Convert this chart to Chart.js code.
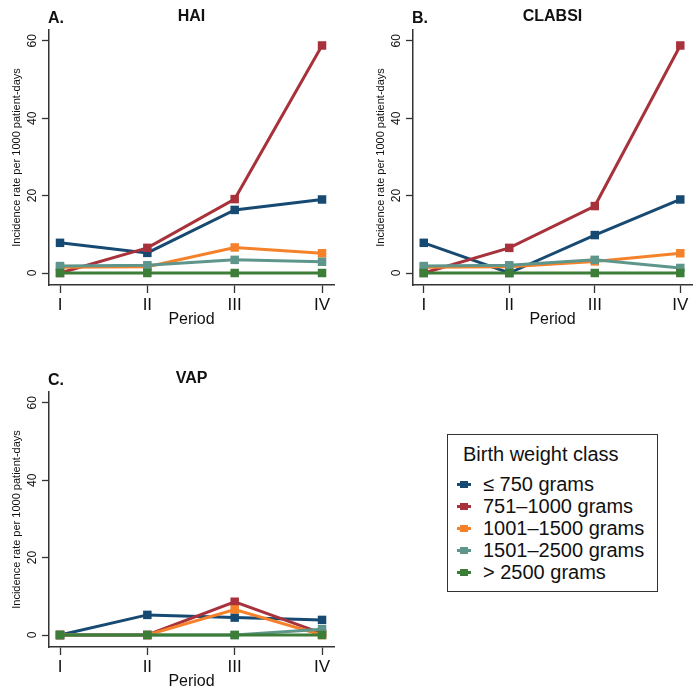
<!DOCTYPE html>
<html>
<head>
<meta charset="utf-8">
<script src="https://cdn.jsdelivr.net/npm/chart.js@4.4.1/dist/chart.umd.min.js"></script>
<style>
  body { margin: 0; background: #fff; }
  #wrap { position: relative; width: 698px; height: 692px; overflow: hidden; font-family: 'Liberation Sans', Arial, sans-serif; }
  #wrap canvas { position: absolute; }
  #legend { position: absolute; left: 447px; top: 434px; width: 211px; height: 158px; box-sizing: border-box; border: 1px solid #333; color: #111; font-size: 20px; }
  #legend .ttl { position: absolute; left: 15px; top: 8px; line-height: 22px; white-space: nowrap; }
  #legend .row { position: absolute; left: 0; height: 22px; line-height: 22px; white-space: nowrap; }
  #legend .ln { position: absolute; left: 9px; top: 10px; width: 14px; height: 3px; }
  #legend .sq { position: absolute; left: 12px; top: 8px; width: 8px; height: 7px; }
  #legend .tx { position: absolute; left: 35px; top: 0; }
</style>
</head>
<body>
<div id="wrap">
  <canvas id="hai" width="349" height="330" style="left:0;top:0"></canvas>
  <canvas id="clabsi" width="334" height="330" style="left:364px;top:0"></canvas>
  <canvas id="vap" width="349" height="330" style="left:0;top:362px"></canvas>
  <div id="legend"></div>
</div>
<script>
const periods = ['I', 'II', 'III', 'IV'];
const weightClasses = ['≤ 750 grams', '751–1000 grams', '1001–1500 grams', '1501–2500 grams', '> 2500 grams'];
const yTicks = [0, 20, 40, 60];

// HAI
const haiLe750 = [7.8, 5.2, 16.3, 19.0];
const hai751 = [0, 6.5, 19.1, 58.8];
const hai1001 = [1.5, 1.6, 6.6, 5.1];
const hai1501 = [1.8, 2.0, 3.4, 2.9];
const haiGt2500 = [0, 0, 0, 0];

// CLABSI
const clabsiLe750 = [7.8, 0, 9.8, 19.0];
const clabsi751 = [0, 6.5, 17.3, 58.8];
const clabsi1001 = [1.5, 1.6, 3.0, 5.1];
const clabsi1501 = [1.8, 2.0, 3.4, 1.3];
const clabsiGt2500 = [0, 0, 0, 0];

// VAP
const vapLe750 = [0, 5.2, 4.5, 3.9];
const vap751 = [0, 0, 8.6, 0.4];
const vap1001 = [0, 0, 6.6, 0];
const vap1501 = [0, 0, 0, 1.5];
const vapGt2500 = [0, 0, 0, 0];

const colors = ['#174a72', '#a8323c', '#f5822a', '#5f968c', '#3c7d37'];
const FONT = "'Liberation Sans', Arial, sans-serif";

// panel letter + title above plot area
const panelTitle = {
  id: 'panelTitle',
  afterDraw(chart, args, opts) {
    const { ctx, chartArea } = chart;
    ctx.save();
    ctx.fillStyle = '#111';
    ctx.font = 'bold 16px ' + FONT;
    ctx.textBaseline = 'middle';
    ctx.textAlign = 'left';
    ctx.fillText(opts.letter, chartArea.left - 1, 19);
    ctx.textAlign = 'center';
    ctx.fillText(opts.title, (chartArea.left + chartArea.right) / 2, 17);
    ctx.restore();
  }
};

function makePanel(id, letter, title, series, padRight) {
  const ctx = document.getElementById(id).getContext('2d');
  return new Chart(ctx, {
    type: 'line',
    data: {
      datasets: series.map((vals, i) => ({
        label: weightClasses[i],
        data: vals.map((v, j) => ({ x: j + 1, y: v })),
        borderColor: colors[i],
        backgroundColor: colors[i],
        borderWidth: 3,
        pointStyle: 'rect',
        pointRadius: 6,
        pointBorderWidth: 0,
        order: -i,
      })),
    },
    options: {
      responsive: false,
      animation: false,
      devicePixelRatio: 1,
      layout: { padding: { left: 0, right: padRight, top: 30, bottom: 0 } },
      plugins: {
        legend: { display: false },
        tooltip: { enabled: false },
        panelTitle: { letter, title },
      },
      scales: {
        x: {
          type: 'linear',
          min: 0.874,
          max: 4.137,
          afterBuildTicks: s => { s.ticks = periods.map((p, i) => ({ value: i + 1 })); },
          afterFit: s => { s.height = 45; },
          ticks: {
            callback: (v, i) => periods[i],
            autoSkip: false,
            maxRotation: 0,
            padding: 2,
            color: '#111',
            font: { family: FONT, size: 17 },
          },
          grid: { drawOnChartArea: false, tickLength: 8, tickColor: '#333', tickWidth: 1.3 },
          border: { color: '#333', width: 1.5 },
          title: {
            display: true,
            text: 'Period',
            color: '#111',
            font: { family: FONT, size: 16 },
            padding: { top: 0, bottom: 1 },
          },
        },
        y: {
          min: -3.1,
          max: 62.8,
          afterBuildTicks: s => { s.ticks = yTicks.map(v => ({ value: v })); },
          afterFit: s => { s.width = 49; },
          ticks: {
            minRotation: 90,
            maxRotation: 90,
            crossAlign: 'center',
            padding: 3,
            color: '#111',
            font: { family: FONT, size: 12 },
          },
          grid: { drawOnChartArea: false, tickLength: 7, tickColor: '#333', tickWidth: 1.3 },
          border: { color: '#333', width: 1.5 },
          title: {
            display: true,
            text: 'Incidence rate per 1000 patient-days',
            color: '#111',
            font: { family: FONT, size: 11 },
            padding: { top: 10, bottom: 0 },
          },
        },
      },
    },
    plugins: [panelTitle],
  });
}

makePanel('hai', 'A.', 'HAI', [haiLe750, hai751, hai1001, hai1501, haiGt2500], 15);
makePanel('clabsi', 'B.', 'CLABSI', [clabsiLe750, clabsi751, clabsi1001, clabsi1501, clabsiGt2500], 0);
makePanel('vap', 'C.', 'VAP', [vapLe750, vap751, vap1001, vap1501, vapGt2500], 15);

// legend box
const legend = document.getElementById('legend');
let html = '<div class="ttl">Birth weight class</div>';
weightClasses.forEach((name, i) => {
  html += `<div class="row" style="top:${38 + i * 22}px">` +
    `<span class="ln" style="background:${colors[i]}"></span>` +
    `<span class="sq" style="background:${colors[i]}"></span>` +
    `<span class="tx">${name}</span></div>`;
});
legend.innerHTML = html;
</script>
</body>
</html>
